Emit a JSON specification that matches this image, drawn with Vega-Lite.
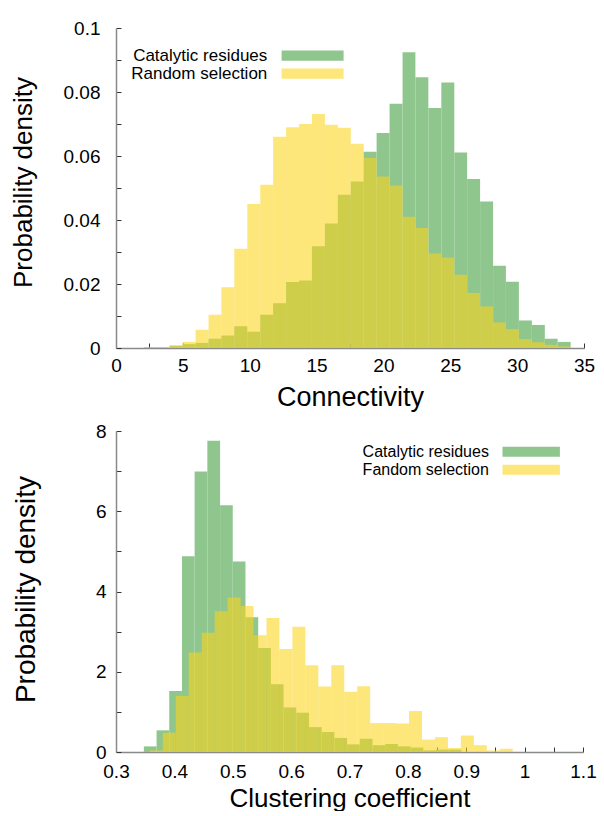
{
  "$schema": "https://vega.github.io/schema/vega-lite/v6.json",
  "padding": {"left": 10, "top": 19, "right": 4, "bottom": 0},
  "spacing": 12,
  "resolve": {"scale": {"color": "independent"}, "legend": {"color": "independent"}},
  "config": {
    "font": "Liberation Sans",
    "view": {"stroke": null},
    "axis": {
      "grid": false,
      "domainColor": "#8a8a8a",
      "domainWidth": 1.5,
      "tickColor": "#333333",
      "tickWidth": 1,
      "tickSize": -5,
      "labelFont": "Liberation Sans",
      "labelFontSize": 19,
      "labelColor": "#000000",
      "labelFlush": false,
      "labelOverlap": false,
      "titleFont": "Liberation Sans",
      "titleFontWeight": "normal",
      "titleColor": "#000000",
      "titleBaseline": "alphabetic",
      "titleAlign": "center"
    },
    "legend": {
      "title": null,
      "orient": "none",
      "padding": 0,
      "rowPadding": 0,
      "symbolStrokeWidth": 0,
      "symbolOpacity": 1,
      "symbolSize": 400,
      "labelAlign": "right",
      "labelFont": "Liberation Sans",
      "labelColor": "#000000"
    }
  },
  "datasets": {
    "connectivity": [
      {"series": "Catalytic residues", "start": 2.08, "end": 3.05, "density": 0.0002},
      {"series": "Catalytic residues", "start": 3.05, "end": 4.01, "density": 0.0002},
      {"series": "Catalytic residues", "start": 4.01, "end": 4.98, "density": 0.0007},
      {"series": "Catalytic residues", "start": 4.98, "end": 5.95, "density": 0.0012},
      {"series": "Catalytic residues", "start": 5.95, "end": 6.92, "density": 0.0016},
      {"series": "Catalytic residues", "start": 6.92, "end": 7.88, "density": 0.0029},
      {"series": "Catalytic residues", "start": 7.88, "end": 8.85, "density": 0.0039},
      {"series": "Catalytic residues", "start": 8.85, "end": 9.82, "density": 0.0068},
      {"series": "Catalytic residues", "start": 9.82, "end": 10.79, "density": 0.0051},
      {"series": "Catalytic residues", "start": 10.79, "end": 11.75, "density": 0.0104},
      {"series": "Catalytic residues", "start": 11.75, "end": 12.72, "density": 0.014},
      {"series": "Catalytic residues", "start": 12.72, "end": 13.69, "density": 0.0206},
      {"series": "Catalytic residues", "start": 13.69, "end": 14.65, "density": 0.0211},
      {"series": "Catalytic residues", "start": 14.65, "end": 15.62, "density": 0.0318},
      {"series": "Catalytic residues", "start": 15.62, "end": 16.59, "density": 0.0389},
      {"series": "Catalytic residues", "start": 16.59, "end": 17.56, "density": 0.0479},
      {"series": "Catalytic residues", "start": 17.56, "end": 18.52, "density": 0.052},
      {"series": "Catalytic residues", "start": 18.52, "end": 19.49, "density": 0.0613},
      {"series": "Catalytic residues", "start": 19.49, "end": 20.46, "density": 0.0672},
      {"series": "Catalytic residues", "start": 20.46, "end": 21.43, "density": 0.0763},
      {"series": "Catalytic residues", "start": 21.43, "end": 22.39, "density": 0.0924},
      {"series": "Catalytic residues", "start": 22.39, "end": 23.36, "density": 0.0846},
      {"series": "Catalytic residues", "start": 23.36, "end": 24.33, "density": 0.075},
      {"series": "Catalytic residues", "start": 24.33, "end": 25.3, "density": 0.083},
      {"series": "Catalytic residues", "start": 25.3, "end": 26.26, "density": 0.0611},
      {"series": "Catalytic residues", "start": 26.26, "end": 27.23, "density": 0.0528},
      {"series": "Catalytic residues", "start": 27.23, "end": 28.2, "density": 0.0458},
      {"series": "Catalytic residues", "start": 28.2, "end": 29.16, "density": 0.0257},
      {"series": "Catalytic residues", "start": 29.16, "end": 30.13, "density": 0.0207},
      {"series": "Catalytic residues", "start": 30.13, "end": 31.1, "density": 0.0086},
      {"series": "Catalytic residues", "start": 31.1, "end": 32.07, "density": 0.0072},
      {"series": "Catalytic residues", "start": 32.07, "end": 33.03, "density": 0.0029},
      {"series": "Catalytic residues", "start": 33.03, "end": 34.0, "density": 0.0019},
      {"series": "Random selection", "start": 2.08, "end": 3.05, "density": 0.0001},
      {"series": "Random selection", "start": 3.05, "end": 4.01, "density": 0.0002},
      {"series": "Random selection", "start": 4.01, "end": 4.98, "density": 0.0008},
      {"series": "Random selection", "start": 4.98, "end": 5.95, "density": 0.0019},
      {"series": "Random selection", "start": 5.95, "end": 6.92, "density": 0.0057},
      {"series": "Random selection", "start": 6.92, "end": 7.88, "density": 0.0104},
      {"series": "Random selection", "start": 7.88, "end": 8.85, "density": 0.019},
      {"series": "Random selection", "start": 8.85, "end": 9.82, "density": 0.031},
      {"series": "Random selection", "start": 9.82, "end": 10.79, "density": 0.045},
      {"series": "Random selection", "start": 10.79, "end": 11.75, "density": 0.051},
      {"series": "Random selection", "start": 11.75, "end": 12.72, "density": 0.066},
      {"series": "Random selection", "start": 12.72, "end": 13.69, "density": 0.069},
      {"series": "Random selection", "start": 13.69, "end": 14.65, "density": 0.07},
      {"series": "Random selection", "start": 14.65, "end": 15.62, "density": 0.0731},
      {"series": "Random selection", "start": 15.62, "end": 16.59, "density": 0.0698},
      {"series": "Random selection", "start": 16.59, "end": 17.56, "density": 0.0688},
      {"series": "Random selection", "start": 17.56, "end": 18.52, "density": 0.0638},
      {"series": "Random selection", "start": 18.52, "end": 19.49, "density": 0.0594},
      {"series": "Random selection", "start": 19.49, "end": 20.46, "density": 0.0536},
      {"series": "Random selection", "start": 20.46, "end": 21.43, "density": 0.0508},
      {"series": "Random selection", "start": 21.43, "end": 22.39, "density": 0.041},
      {"series": "Random selection", "start": 22.39, "end": 23.36, "density": 0.0375},
      {"series": "Random selection", "start": 23.36, "end": 24.33, "density": 0.0295},
      {"series": "Random selection", "start": 24.33, "end": 25.3, "density": 0.0283},
      {"series": "Random selection", "start": 25.3, "end": 26.26, "density": 0.0229},
      {"series": "Random selection", "start": 26.26, "end": 27.23, "density": 0.0172},
      {"series": "Random selection", "start": 27.23, "end": 28.2, "density": 0.013},
      {"series": "Random selection", "start": 28.2, "end": 29.16, "density": 0.008},
      {"series": "Random selection", "start": 29.16, "end": 30.13, "density": 0.0059},
      {"series": "Random selection", "start": 30.13, "end": 31.1, "density": 0.0028},
      {"series": "Random selection", "start": 31.1, "end": 32.07, "density": 0.0018},
      {"series": "Random selection", "start": 32.07, "end": 33.03, "density": 0.001},
      {"series": "Random selection", "start": 33.03, "end": 34.0, "density": 0.0005}
    ],
    "clustering": [
      {"series": "Catalytic residues", "start": 0.3477, "end": 0.3695, "density": 0.14},
      {"series": "Catalytic residues", "start": 0.3695, "end": 0.3912, "density": 0.54},
      {"series": "Catalytic residues", "start": 0.3912, "end": 0.413, "density": 1.52},
      {"series": "Catalytic residues", "start": 0.413, "end": 0.4347, "density": 4.88},
      {"series": "Catalytic residues", "start": 0.4347, "end": 0.4565, "density": 6.99},
      {"series": "Catalytic residues", "start": 0.4565, "end": 0.4783, "density": 7.76},
      {"series": "Catalytic residues", "start": 0.4783, "end": 0.5, "density": 6.15},
      {"series": "Catalytic residues", "start": 0.5, "end": 0.5218, "density": 4.75},
      {"series": "Catalytic residues", "start": 0.5218, "end": 0.5436, "density": 3.36},
      {"series": "Catalytic residues", "start": 0.5436, "end": 0.5653, "density": 2.59},
      {"series": "Catalytic residues", "start": 0.5653, "end": 0.5871, "density": 1.69},
      {"series": "Catalytic residues", "start": 0.5871, "end": 0.6088, "density": 1.11},
      {"series": "Catalytic residues", "start": 0.6088, "end": 0.6306, "density": 0.98},
      {"series": "Catalytic residues", "start": 0.6306, "end": 0.6523, "density": 0.62},
      {"series": "Catalytic residues", "start": 0.6523, "end": 0.6741, "density": 0.5},
      {"series": "Catalytic residues", "start": 0.6741, "end": 0.6959, "density": 0.35},
      {"series": "Catalytic residues", "start": 0.6959, "end": 0.7176, "density": 0.19},
      {"series": "Catalytic residues", "start": 0.7176, "end": 0.7394, "density": 0.33},
      {"series": "Catalytic residues", "start": 0.7394, "end": 0.7611, "density": 0.17},
      {"series": "Catalytic residues", "start": 0.7611, "end": 0.7829, "density": 0.2},
      {"series": "Catalytic residues", "start": 0.7829, "end": 0.8047, "density": 0.14},
      {"series": "Catalytic residues", "start": 0.8047, "end": 0.8264, "density": 0.11},
      {"series": "Catalytic residues", "start": 0.8264, "end": 0.8482, "density": 0.04},
      {"series": "Catalytic residues", "start": 0.8482, "end": 0.8699, "density": 0.06},
      {"series": "Catalytic residues", "start": 0.8699, "end": 0.8917, "density": 0.06},
      {"series": "Fandom selection", "start": 0.358, "end": 0.3802, "density": 0.04},
      {"series": "Fandom selection", "start": 0.3802, "end": 0.4024, "density": 0.48},
      {"series": "Fandom selection", "start": 0.4024, "end": 0.4246, "density": 1.4},
      {"series": "Fandom selection", "start": 0.4246, "end": 0.4468, "density": 2.48},
      {"series": "Fandom selection", "start": 0.4468, "end": 0.469, "density": 2.97},
      {"series": "Fandom selection", "start": 0.469, "end": 0.4912, "density": 3.51},
      {"series": "Fandom selection", "start": 0.4912, "end": 0.5134, "density": 3.85},
      {"series": "Fandom selection", "start": 0.5134, "end": 0.5356, "density": 3.64},
      {"series": "Fandom selection", "start": 0.5356, "end": 0.5578, "density": 2.91},
      {"series": "Fandom selection", "start": 0.5578, "end": 0.58, "density": 3.34},
      {"series": "Fandom selection", "start": 0.58, "end": 0.6022, "density": 2.57},
      {"series": "Fandom selection", "start": 0.6022, "end": 0.6244, "density": 3.12},
      {"series": "Fandom selection", "start": 0.6244, "end": 0.6466, "density": 2.16},
      {"series": "Fandom selection", "start": 0.6466, "end": 0.6688, "density": 1.63},
      {"series": "Fandom selection", "start": 0.6688, "end": 0.691, "density": 2.16},
      {"series": "Fandom selection", "start": 0.691, "end": 0.7132, "density": 1.5},
      {"series": "Fandom selection", "start": 0.7132, "end": 0.7354, "density": 1.64},
      {"series": "Fandom selection", "start": 0.7354, "end": 0.7576, "density": 0.72},
      {"series": "Fandom selection", "start": 0.7576, "end": 0.7798, "density": 0.72},
      {"series": "Fandom selection", "start": 0.7798, "end": 0.802, "density": 0.71},
      {"series": "Fandom selection", "start": 0.802, "end": 0.8242, "density": 1.02},
      {"series": "Fandom selection", "start": 0.8242, "end": 0.8464, "density": 0.31},
      {"series": "Fandom selection", "start": 0.8464, "end": 0.8686, "density": 0.37},
      {"series": "Fandom selection", "start": 0.8686, "end": 0.8908, "density": 0.1},
      {"series": "Fandom selection", "start": 0.8908, "end": 0.913, "density": 0.41},
      {"series": "Fandom selection", "start": 0.913, "end": 0.9352, "density": 0.17},
      {"series": "Fandom selection", "start": 0.9352, "end": 0.9574, "density": 0.04},
      {"series": "Fandom selection", "start": 0.9574, "end": 0.9796, "density": 0.08}
    ]
  },
  "vconcat": [
    {
      "width": 468,
      "height": 320,
      "data": {"name": "connectivity"},
      "mark": {"type": "bar"},
      "encoding": {
        "x": {
          "field": "start",
          "type": "quantitative",
          "scale": {"domain": [0, 35], "nice": false, "zero": false},
          "axis": {
            "title": "Connectivity",
            "values": [0, 2.5, 5, 7.5, 10, 12.5, 15, 17.5, 20, 22.5, 25, 27.5, 30, 32.5, 35],
            "labelExpr": "datum.value % 5 === 0 ? format(datum.value, 'd') : ''",
            "labelPadding": 13,
            "titleFontSize": 27,
            "titleX": 234,
            "titleY": 57
          }
        },
        "x2": {"field": "end"},
        "y": {
          "field": "density",
          "type": "quantitative",
          "stack": null,
          "scale": {"domain": [0, 0.1], "nice": false},
          "axis": {
            "title": "Probability density",
            "values": [0, 0.01, 0.02, 0.03, 0.04, 0.05, 0.06, 0.07, 0.08, 0.09, 0.1],
            "labelExpr": "round(datum.value * 100) % 2 === 0 ? format(datum.value, '~g') : ''",
            "labelPadding": 21,
            "titleFontSize": 26,
            "titleX": -85,
            "titleY": 154,
            "titleAngle": -90
          }
        },
        "y2": {"datum": 0},
        "color": {
          "field": "series",
          "type": "nominal",
          "scale": {"domain": ["Catalytic residues", "Random selection"], "range": ["#8FC68E", "rgba(251,212,25,0.58)"]},
          "legend": {
            "legendX": 186.6,
            "legendY": 17.7,
            "symbolType": "M-3.1,-0.515H3.1V0.515H-3.1Z",
            "labelOffset": -55.3,
            "labelFontSize": 17
          }
        }
      }
    },
    {
      "width": 467,
      "height": 321,
      "data": {"name": "clustering"},
      "mark": {"type": "bar"},
      "encoding": {
        "x": {
          "field": "start",
          "type": "quantitative",
          "scale": {"domain": [0.3, 1.1], "nice": false, "zero": false},
          "axis": {
            "title": "Clustering coefficient",
            "values": [0.3, 0.35, 0.4, 0.45, 0.5, 0.55, 0.6, 0.65, 0.7, 0.75, 0.8, 0.85, 0.9, 0.95, 1, 1.05, 1.1],
            "labelExpr": "round(datum.value * 100) % 10 === 0 ? format(datum.value, '~g') : ''",
            "labelPadding": 15,
            "titleFontSize": 26,
            "titleX": 233.5,
            "titleY": 54
          }
        },
        "x2": {"field": "end"},
        "y": {
          "field": "density",
          "type": "quantitative",
          "stack": null,
          "scale": {"domain": [0, 8], "nice": false},
          "axis": {
            "title": "Probability density",
            "values": [0, 1, 2, 3, 4, 5, 6, 7, 8],
            "labelExpr": "datum.value % 2 === 0 ? format(datum.value, 'd') : ''",
            "labelPadding": 15,
            "titleFontSize": 28,
            "titleX": -82,
            "titleY": 158,
            "titleAngle": -90
          }
        },
        "y2": {"datum": 0},
        "color": {
          "field": "series",
          "type": "nominal",
          "scale": {"domain": ["Catalytic residues", "Fandom selection"], "range": ["#8FC68E", "rgba(251,212,25,0.58)"]},
          "legend": {
            "legendX": 405.2,
            "legendY": 10.7,
            "symbolType": "M-2.87,-0.5H2.87V0.5H-2.87Z",
            "labelOffset": -52.3,
            "labelFontSize": 16
          }
        }
      }
    }
  ]
}
